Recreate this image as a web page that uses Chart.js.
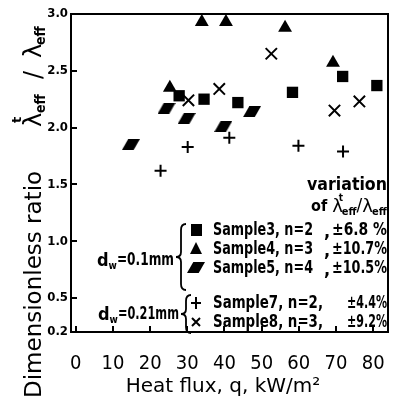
<!DOCTYPE html>
<html>
<head>
<meta charset="utf-8">
<script src="https://cdn.jsdelivr.net/npm/chart.js@4.4.1/dist/chart.umd.min.js"></script>
<style>
  body { margin: 0; background: #fff; }
  #wrap { width: 394px; height: 408px; }
</style>
</head>
<body>
<div id="wrap"><canvas id="fluxChart"></canvas></div>
<script>
// values: heat flux q (kW/m2) and ratio per sample
const flux3 = [27.8, 34.5, 43.6, 58.3, 71.8, 81.0];
const ratio3 = [2.28, 2.25, 2.22, 2.31, 2.45, 2.37];
const flux4 = [25.3, 33.9, 40.4, 56.3, 69.2];
const ratio4 = [2.35, 2.93, 2.93, 2.88, 2.57];
const flux5 = [14.8, 24.4, 29.8, 39.7, 47.4];
const ratio5 = [1.85, 2.17, 2.08, 2.01, 2.14];
const flux7 = [22.8, 30.1, 41.3, 59.9, 71.9];
const ratio7 = [1.62, 1.83, 1.91, 1.84, 1.79];
const flux8 = [30.3, 38.6, 52.6, 69.6, 76.3];
const ratio8 = [2.24, 2.34, 2.65, 2.15, 2.23];

const xTicks = [0, 10, 20, 30, 40, 50, 60, 70, 80];
const yTicks = [0.2, 0.5, 1.0, 1.5, 2.0, 2.5, 3.0];

const sampleNames = ['Sample3, n=2', 'Sample4, n=3', 'Sample5, n=4', 'Sample7, n=2,', 'Sample8, n=3,'];
const sampleVariation = ['±6.8 %', '±10.7%', '±10.5%', '±4.4%', '±9.2%'];

const NARROW = "'DejaVu Sans Condensed', 'DejaVu Sans', sans-serif";
const WIDE = "'DejaVu Sans', sans-serif";

// parallelogram marker for sample 5
function makeParallelogram(w, h) {
    const c = document.createElement('canvas');
    c.width = w; c.height = h;
    const g = c.getContext('2d');
    g.fillStyle = '#000';
    g.beginPath();
    g.moveTo(w * 0.35, 0);
    g.lineTo(w, 0);
    g.lineTo(w * 0.65, h);
    g.lineTo(0, h);
    g.closePath();
    g.fill();
    return c;
}
const paraMark = makeParallelogram(18, 11);

function toPoints(xs, ys) {
    return xs.map((x, i) => ({ x: x, y: ys[i] }));
}

function txt(ctx, s, x, y, font, maxW, align) {
    ctx.font = font;
    ctx.textAlign = align || 'left';
    ctx.textBaseline = 'middle';
    if (maxW) ctx.fillText(s, x, y, maxW); else ctx.fillText(s, x, y);
    return x + Math.min(ctx.measureText(s).width, maxW || 1e9);
}

function brace(ctx, x, y0, y1) {
    const ym = (y0 + y1) / 2;
    ctx.beginPath();
    ctx.moveTo(x + 5, y0);
    ctx.quadraticCurveTo(x, y0, x, y0 + 6);
    ctx.lineTo(x, ym - 5);
    ctx.quadraticCurveTo(x, ym, x - 5, ym);
    ctx.quadraticCurveTo(x, ym, x, ym + 5);
    ctx.lineTo(x, y1 - 6);
    ctx.quadraticCurveTo(x, y1, x + 5, y1);
    ctx.stroke();
}

function legendMark(ctx, kind, x, y) {
    ctx.fillStyle = '#000';
    ctx.strokeStyle = '#000';
    ctx.lineWidth = 2;
    ctx.beginPath();
    if (kind === 0) {
        ctx.fillRect(x - 5, y - 6, 11, 12);
    } else if (kind === 1) {
        ctx.moveTo(x, y - 7); ctx.lineTo(x + 6, y + 5); ctx.lineTo(x - 6, y + 5);
        ctx.closePath(); ctx.fill();
    } else if (kind === 2) {
        ctx.drawImage(paraMark, x - 9, y - 6);
    } else if (kind === 3) {
        ctx.moveTo(x - 5, y); ctx.lineTo(x + 5, y);
        ctx.moveTo(x, y - 6); ctx.lineTo(x, y + 6); ctx.stroke();
    } else {
        ctx.moveTo(x - 4, y - 4); ctx.lineTo(x + 4, y + 4);
        ctx.moveTo(x + 4, y - 4); ctx.lineTo(x - 4, y + 4); ctx.stroke();
    }
}

const decorPlugin = {
    id: 'decor',
    afterDraw(chart) {
        const ctx = chart.ctx;
        const a = chart.chartArea;
        const xs = chart.scales.x, ys = chart.scales.y;
        ctx.save();
        ctx.strokeStyle = '#000';
        ctx.fillStyle = '#000';

        // frame
        ctx.lineWidth = 2;
        ctx.strokeRect(a.left, a.top, a.right - a.left, a.bottom - a.top);

        // inward tick marks
        ctx.beginPath();
        xTicks.forEach(v => {
            const px = Math.round(xs.getPixelForValue(v));
            ctx.moveTo(px, a.bottom); ctx.lineTo(px, a.bottom - 6);
        });
        yTicks.forEach(v => {
            const py = Math.round(ys.getPixelForValue(v));
            ctx.moveTo(a.left, py); ctx.lineTo(a.left + 6, py);
        });
        ctx.stroke();

        // y axis title, rotated; u runs upward from the bottom of the page
        ctx.save();
        ctx.translate(35, 398);
        ctx.rotate(-Math.PI / 2);
        txt(ctx, 'Dimensionless ratio', 0, 0, '23px ' + WIDE, 238);
        txt(ctx, 'λ', 271, 0, '24px ' + WIDE);
        txt(ctx, 't', 275, -17, 'bold 13px ' + WIDE);
        txt(ctx, 'eff', 285, 6, 'bold 14px ' + NARROW);
        txt(ctx, '/', 319, 0, '24px ' + WIDE);
        txt(ctx, 'λ', 340, 0, '24px ' + WIDE);
        txt(ctx, 'eff', 353, 6, 'bold 14px ' + NARROW);
        ctx.restore();

        // x axis title
        txt(ctx, 'Heat flux, q, kW/m²', 223, 387, '20px ' + WIDE, 202, 'center');

        // legend block
        txt(ctx, 'variation', 387, 185, 'bold 18px ' + NARROW, 80, 'right');
        let q = txt(ctx, 'of ', 311, 207, 'bold 16px ' + NARROW);
        q = txt(ctx, 'λ', q, 207, '18px ' + WIDE);
        txt(ctx, 't', q - 4, 198, 'bold 10px ' + NARROW);
        q = txt(ctx, 'eff', q - 1, 212, 'bold 11px ' + NARROW);
        q = txt(ctx, '/', q, 207, '17px ' + WIDE);
        q = txt(ctx, 'λ', q, 207, '18px ' + WIDE);
        txt(ctx, 'eff', q - 1, 212, 'bold 11px ' + NARROW, 388 - q);

        const rowY = [230, 249, 268, 303, 322];
        rowY.forEach((y, i) => {
            legendMark(ctx, i, 196, y);
            ctx.fillStyle = '#000';
            txt(ctx, sampleNames[i], 213, y, 'bold 18px ' + NARROW, i < 3 ? 100 : 110);
            if (i < 3) txt(ctx, ',', 324, y + 2, 'bold 18px ' + NARROW);
            txt(ctx, sampleVariation[i], 387, y, 'bold 18px ' + NARROW, i < 3 ? 55 : 40, 'right');
        });

        // wire diameter groups
        let d = txt(ctx, 'd', 97, 261, 'bold 18px ' + NARROW);
        d = txt(ctx, 'w', d, 266, 'bold 10px ' + NARROW);
        txt(ctx, '=0.1mm', d, 261, 'bold 17px ' + NARROW, 174 - d);
        d = txt(ctx, 'd', 98, 315, 'bold 18px ' + NARROW);
        d = txt(ctx, 'w', d, 320, 'bold 10px ' + NARROW);
        txt(ctx, '=0.21mm', d, 315, 'bold 17px ' + NARROW, 179 - d);

        ctx.lineWidth = 1.8;
        brace(ctx, 181, 224, 290);
        brace(ctx, 186, 295, 333);

        ctx.restore();
    }
};

new Chart(document.getElementById('fluxChart'), {
    type: 'scatter',
    data: {
        datasets: [
            { label: 'Sample3', data: toPoints(flux3, ratio3), pointStyle: 'rect', pointRadius: 8,
              backgroundColor: '#000', borderColor: '#000', borderWidth: 0 },
            { label: 'Sample4', data: toPoints(flux4, ratio4), pointStyle: 'triangle', pointRadius: 8,
              backgroundColor: '#000', borderColor: '#000', borderWidth: 0 },
            { label: 'Sample5', data: toPoints(flux5, ratio5), pointStyle: paraMark, pointRadius: 9,
              backgroundColor: '#000', borderColor: '#000' },
            { label: 'Sample7', data: toPoints(flux7, ratio7), pointStyle: 'cross', pointRadius: 6,
              borderColor: '#000', borderWidth: 2 },
            { label: 'Sample8', data: toPoints(flux8, ratio8), pointStyle: 'crossRot', pointRadius: 8,
              borderColor: '#000', borderWidth: 2 }
        ]
    },
    options: {
        responsive: true,
        maintainAspectRatio: false,
        animation: false,
        events: [],
        // point radius would otherwise widen the right margin
        layout: { autoPadding: false, padding: { left: 0, top: 14, right: 6, bottom: 0 } },
        plugins: { legend: { display: false }, tooltip: { enabled: false } },
        scales: {
            x: {
                type: 'linear', min: -1.3, max: 84,
                afterBuildTicks: s => { s.ticks = xTicks.map(v => ({ value: v })); },
                afterFit: s => { s.height = 76; s.paddingLeft = 0; s.paddingRight = 0; },
                grid: { display: false, drawTicks: false },
                border: { display: false },
                ticks: { color: '#000', padding: 20, maxRotation: 0,
                         font: { family: NARROW, size: 20 } }
            },
            y: {
                type: 'linear', min: 0.2, max: 3.0,
                afterBuildTicks: s => { s.ticks = yTicks.map(v => ({ value: v })); },
                afterFit: s => { s.width = 71; s.paddingTop = 0; s.paddingBottom = 0; },
                grid: { display: false, drawTicks: false },
                border: { display: false },
                ticks: { color: '#000', padding: 3,
                         font: { family: NARROW, size: 13, weight: 'bold' },
                         callback: v => v.toFixed(1) }
            }
        }
    },
    plugins: [decorPlugin]
});
</script>
</body>
</html>
